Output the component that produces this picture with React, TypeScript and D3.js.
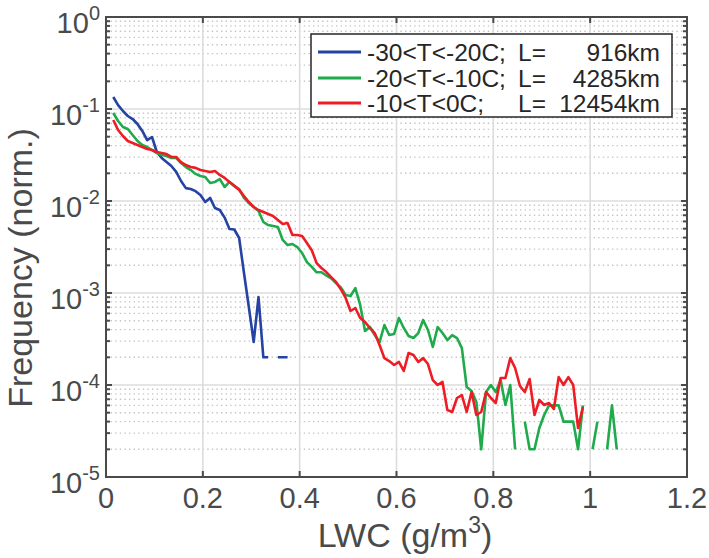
import React from 'react';
import * as d3 from 'd3';

// bin width of the LWC histogram (g/m^3); series start at the second bin
const binWidth = 0.01;
const firstBin = 1;

// -30<T<-20C
const blueFreq: (number | null)[] = [
  0.135, 0.110, 0.0951, 0.0839, 0.0778, 0.0687, 0.0577, 0.0460, 0.0496, 0.0341,
  0.0293, 0.0265, 0.0240, 0.0207, 0.0165, 0.0138, 0.0135, 0.0128, 0.0116, 0.00975,
  0.0108, 0.00839, 0.00798, 0.0066, 0.00496, 0.0049, 0.00396, 0.00165, 0.000705, 0.000293,
  0.000905, 0.0002, 0.0002, null, 0.0002, 0.0002, 0.0002,
];

// -20<T<-10C
const greenFreq: (number | null)[] = [
  0.0905, 0.0741, 0.0637, 0.0606, 0.0522, 0.0449, 0.0406, 0.0386, 0.0358, 0.0332,
  0.0316, 0.0308, 0.0293, 0.0293, 0.0259, 0.0234, 0.0217, 0.0197, 0.0187, 0.0182,
  0.0157, 0.0161, 0.0173, 0.0142, 0.0161, 0.0146, 0.0135, 0.0108, 0.00951, 0.00861,
  0.0078, 0.00591, 0.00548, 0.00535, 0.00521, 0.00377, 0.00332, 0.00341, 0.00316, 0.00272,
  0.00217, 0.00192, 0.00168, 0.00168, 0.00155, 0.00144, 0.00128, 0.00115, 0.000951, 0.000927,
  0.00113, 0.000741, 0.000386, 0.000427, 0.000349, 0.000293, 0.000449, 0.000349, 0.000358, 0.000535,
  0.000417, 0.000341, 0.000324, 0.000367, 0.000509, 0.000396, 0.000259, 0.000427, 0.000367, 0.000308,
  0.000349, 0.000324, 0.000252, 0.0000951, 0.0000861, 0.0000653, 0.00002, 0.0000839, 0.0001, 0.0000839,
  0.000113, 0.0000606, 0.0001, 0.00002, null, 0.00004, 0.00002, 0.00002, 0.0000341, 0.0000472,
  0.00006, 0.00006, 0.00006, 0.00004, 0.00004, 0.00004, 0.00002, 0.00006, null, 0.00002,
  0.00004, null, 0.00002, 0.00006, 0.00002,
];

// -10<T<0C
const redFreq: (number | null)[] = [
  0.0759, 0.0591, 0.0509, 0.0449, 0.0427, 0.0406, 0.0386, 0.0367, 0.0358, 0.0341,
  0.0332, 0.0324, 0.0301, 0.0301, 0.0265, 0.0246, 0.0234, 0.0229, 0.0217, 0.0212,
  0.0207, 0.0212, 0.0192, 0.0178, 0.0161, 0.0146, 0.0132, 0.0113, 0.00975, 0.00861,
  0.00798, 0.00759, 0.00722, 0.00687, 0.00621, 0.00562, 0.00577, 0.00427, 0.00427, 0.00417,
  0.00349, 0.00292, 0.00211, 0.00187, 0.00169, 0.00149, 0.00132, 0.00110, 0.000883, 0.000637,
  0.000687, 0.000535, 0.000484, 0.000417, 0.000367, 0.000272, 0.000196, 0.000182, 0.000165, 0.000178,
  0.000142, 0.000223, 0.000212, 0.000178, 0.000196, 0.000169, 0.000113, 0.0001, 0.000108, 0.0000535,
  0.0000509, 0.0000722, 0.0000778, 0.0000509, 0.0000839, 0.0000472, 0.0000509, 0.0000839, 0.0000722, 0.0000637,
  0.000119, 0.000119, 0.000196, 0.000153, 0.0000975, 0.0000839, 0.000116, 0.0000472, 0.0000687, 0.0000606,
  0.0000637, 0.0000548, 0.000122, 0.0001, 0.000122, 0.0001, 0.0000341, 0.0000577,
];

const seriesLabels = ['-30<T<-20C;', '-20<T<-10C;', '-10<T<0C;'];
const seriesLengths = ['916km', '4285km', '12454km'];
const seriesColors = ['#2443a3', '#1faa4b', '#ee1d25'];

const xTicks = [0, 0.2, 0.4, 0.6, 0.8, 1, 1.2];
const xTickLabels = ['0', '0.2', '0.4', '0.6', '0.8', '1', '1.2'];
const yExponents = [-5, -4, -3, -2, -1, 0];
const minorMultipliers = [2, 3, 4, 5, 6, 7, 8, 9];

const FONT = '"Liberation Sans", Arial, Helvetica, sans-serif';
const AXIS = '#4a4a4a';

export default function App() {
  const left = 106, right = 687, top = 17, bottom = 477;
  const x = d3.scaleLinear().domain([0, 1.2]).range([left, right]);
  const y = d3.scaleLog().domain([1e-5, 1]).range([bottom, top]);

  type P = { lwc: number; f: number | null };
  const toPoints = (arr: (number | null)[]): P[] =>
    arr.map((f, i) => ({ lwc: (i + firstBin + 0.5) * binWidth, f }));

  const line = d3
    .line<P>()
    .defined((d) => d.f != null && d.f > 0)
    .x((d) => x(d.lwc))
    .y((d) => y(d.f as number));

  const series = [blueFreq, greenFreq, redFreq].map(toPoints);

  const minorVals: number[] = [];
  yExponents.slice(0, -1).forEach((e) =>
    minorMultipliers.forEach((m) => minorVals.push(m * Math.pow(10, e)))
  );

  const legendX = 311, legendY = 34, legendW = 361, legendH = 83;
  const rowY = [52, 78, 103];

  return (
    <svg
      width={709}
      height={558}
      style={{ position: 'absolute', left: 0, top: 0, background: '#fff' }}
      fontFamily={FONT}
    >
      <rect x={0} y={0} width={709} height={558} fill="#fff" />
      {/* minor grid */}
      {minorVals.map((v, i) => (
        <line
          key={'mg' + i}
          x1={left}
          x2={right}
          y1={y(v)}
          y2={y(v)}
          stroke="#c4c4c4"
          strokeWidth={1.4}
          strokeDasharray="1.4 3.2"
        />
      ))}
      {/* major grid */}
      {yExponents.map((e) => (
        <line
          key={'gy' + e}
          x1={left}
          x2={right}
          y1={y(Math.pow(10, e))}
          y2={y(Math.pow(10, e))}
          stroke="#dcdcdc"
          strokeWidth={1.6}
        />
      ))}
      {xTicks.map((t) => (
        <line
          key={'gx' + t}
          x1={x(t)}
          x2={x(t)}
          y1={top}
          y2={bottom}
          stroke="#dcdcdc"
          strokeWidth={1.6}
        />
      ))}

      {/* data */}
      {series.map((s, i) => (
        <path
          key={'s' + i}
          d={line(s) || ''}
          fill="none"
          stroke={seriesColors[i]}
          strokeWidth={2.6}
          strokeLinejoin="round"
        />
      ))}

      {/* ticks */}
      {xTicks.map((t) => (
        <g key={'xt' + t}>
          <line x1={x(t)} x2={x(t)} y1={bottom} y2={bottom - 6} stroke={AXIS} strokeWidth={2} />
          <line x1={x(t)} x2={x(t)} y1={top} y2={top + 6} stroke={AXIS} strokeWidth={2} />
        </g>
      ))}
      {yExponents.map((e) => (
        <g key={'yt' + e}>
          <line x1={left} x2={left + 6} y1={y(Math.pow(10, e))} y2={y(Math.pow(10, e))} stroke={AXIS} strokeWidth={2} />
          <line x1={right} x2={right - 6} y1={y(Math.pow(10, e))} y2={y(Math.pow(10, e))} stroke={AXIS} strokeWidth={2} />
        </g>
      ))}
      {minorVals.map((v, i) => (
        <g key={'ym' + i}>
          <line x1={left} x2={left + 4} y1={y(v)} y2={y(v)} stroke={AXIS} strokeWidth={2} />
          <line x1={right} x2={right - 4} y1={y(v)} y2={y(v)} stroke={AXIS} strokeWidth={2} />
        </g>
      ))}

      {/* box */}
      <rect
        x={left}
        y={top}
        width={right - left}
        height={bottom - top}
        fill="none"
        stroke={AXIS}
        strokeWidth={2}
      />

      {/* tick labels */}
      {xTicks.map((t, i) => (
        <text
          key={'xl' + t}
          x={x(t)}
          y={bottom + 31}
          textAnchor="middle"
          fontSize={29}
          fill={AXIS}
        >
          {xTickLabels[i]}
        </text>
      ))}
      {yExponents.map((e) => (
        <text
          key={'yl' + e}
          x={left - 6}
          y={y(Math.pow(10, e)) + 16}
          textAnchor="end"
          fontSize={29}
          fill={AXIS}
        >
          10
          <tspan dy={-13} fontSize={20}>
            {String(e)}
          </tspan>
        </text>
      ))}

      {/* axis labels */}
      <text x={405} y={547} textAnchor="middle" fontSize={34} fill={AXIS}>
        LWC (g/m
        <tspan dy={-14} fontSize={23}>3</tspan>
        <tspan dy={14}>)</tspan>
      </text>
      <text
        transform={`translate(32, 268) rotate(-90)`}
        textAnchor="middle"
        fontSize={34}
        fill={AXIS}
      >
        Frequency (norm.)
      </text>

      {/* legend */}
      <rect
        x={legendX}
        y={legendY}
        width={legendW}
        height={legendH}
        fill="#fff"
        stroke="#262626"
        strokeWidth={1.5}
      />
      {seriesLabels.map((lab, i) => (
        <g key={'lg' + i}>
          <line x1={318} x2={361} y1={rowY[i]} y2={rowY[i]} stroke={seriesColors[i]} strokeWidth={3} />
          <text x={367} y={rowY[i] + 8.5} fontSize={24.5} fill="#262626">
            {lab}
          </text>
          <text x={518} y={rowY[i] + 8.5} fontSize={24.5} fill="#262626">
            L=
          </text>
          <text x={660} y={rowY[i] + 8.5} fontSize={24.5} fill="#262626" textAnchor="end">
            {seriesLengths[i]}
          </text>
        </g>
      ))}
    </svg>
  );
}
